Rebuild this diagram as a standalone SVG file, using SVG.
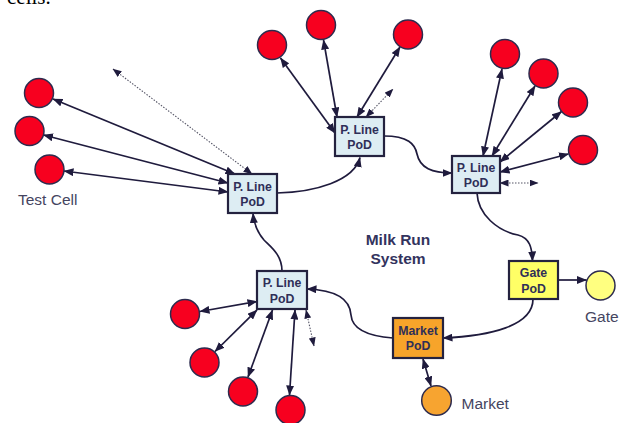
<svg xmlns="http://www.w3.org/2000/svg" width="624" height="423" viewBox="0 0 624 423">
<defs>
<marker id="ah" markerUnits="userSpaceOnUse" markerWidth="10" markerHeight="8" refX="9.5" refY="4" orient="auto-start-reverse"><path d="M0,0 L10,4 L0,8 z" fill="#1f1b3d"/></marker>
<marker id="ahs" markerUnits="userSpaceOnUse" markerWidth="9" markerHeight="7" refX="8.5" refY="3.5" orient="auto-start-reverse"><path d="M0,0 L9,3.5 L0,7 z" fill="#1f1b3d"/></marker>
</defs>
<style>
.c{stroke:#1f1b3d;stroke-width:1.7;fill:none}
.d{stroke:#555566;stroke-width:1.1;stroke-dasharray:1.5,1.5;fill:none}
.red{fill:#f7001f;stroke:#2d2b4e;stroke-width:1.5}
.box{stroke:#24223f;stroke-width:2.2}
.pl{fill:#ddedf3}
.bt{font-family:"Liberation Sans",Arial,sans-serif;font-weight:bold;font-size:12.3px;fill:#2f2f58;text-anchor:middle}
.lb{font-family:"Liberation Sans",Arial,sans-serif;font-size:15.5px;fill:#45455f}
.mr{font-family:"Liberation Sans",Arial,sans-serif;font-weight:bold;font-size:15.5px;fill:#33335e;text-anchor:middle}
</style>
<rect width="624" height="423" fill="#ffffff"/>
<text x="7" y="4" font-family="Liberation Serif,serif" font-size="21" fill="#000">cells.</text>

<g id="connectors">
<!-- box1 spokes -->
<path class="c" d="M53,99 L235,174" marker-start="url(#ah)" marker-end="url(#ah)"/>
<path class="c" d="M43.5,135 L228,183" marker-start="url(#ah)" marker-end="url(#ah)"/>
<path class="c" d="M64,171 L228,192" marker-start="url(#ah)" marker-end="url(#ah)"/>
<path class="d" d="M113,69 L252,174" marker-start="url(#ahs)" marker-end="url(#ahs)"/>
<!-- box2 spokes -->
<path class="c" d="M280.5,58 L335,133" marker-start="url(#ah)" marker-end="url(#ah)"/>
<path class="c" d="M323.5,40 L337,117" marker-start="url(#ah)" marker-end="url(#ah)"/>
<path class="c" d="M400,47 L357,117" marker-start="url(#ah)" marker-end="url(#ah)"/>
<path class="d" d="M366,117 L393,89" marker-start="url(#ahs)" marker-end="url(#ahs)"/>
<!-- box3 spokes -->
<path class="c" d="M502,69 L483,156" marker-start="url(#ah)" marker-end="url(#ah)"/>
<path class="c" d="M535,86 L492,156" marker-start="url(#ah)" marker-end="url(#ah)"/>
<path class="c" d="M561.5,111.5 L500,162" marker-start="url(#ah)" marker-end="url(#ah)"/>
<path class="c" d="M568.5,154 L500,172" marker-start="url(#ah)" marker-end="url(#ah)"/>
<path class="d" d="M500,183 L538,183" marker-start="url(#ahs)" marker-end="url(#ahs)"/>
<!-- box4 spokes -->
<path class="c" d="M200,311.5 L257,301.5" marker-start="url(#ah)" marker-end="url(#ah)"/>
<path class="c" d="M215,351.5 L257,310" marker-start="url(#ah)" marker-end="url(#ah)"/>
<path class="c" d="M248,377 L272.5,310" marker-start="url(#ah)" marker-end="url(#ah)"/>
<path class="c" d="M289.5,395 L295,310" marker-start="url(#ah)" marker-end="url(#ah)"/>
<path class="d" d="M306,310 L314,346" marker-start="url(#ahs)" marker-end="url(#ahs)"/>
<!-- market -->
<path class="c" d="M423,359 L431,386" marker-start="url(#ah)" marker-end="url(#ah)"/>
<!-- gate -->
<path class="c" d="M558,280 L586.5,280" marker-end="url(#ah)"/>
<!-- milk run loop -->
<path class="c" d="M277,193 C315,192 354,181 360,157.5" marker-end="url(#ah)"/>
<path class="c" d="M384,136 C408,136 415,144 417,154 C420,168 432,173 452,173" marker-end="url(#ah)"/>
<path class="c" d="M477,193 C478,215 498,231 518,235 C530,238 532,248 532.5,261" marker-end="url(#ah)"/>
<path class="c" d="M533,299 C533,326 490,336 443,338" marker-end="url(#ah)"/>
<path class="c" d="M393,338 C366,336 352,328 351,315 C350,298 335,290 307,289" marker-end="url(#ah)"/>
<path class="c" d="M282,271 C282,255 271,247 264,240 C258,233 254,225 253,213.5" marker-end="url(#ah)"/>
</g>

<g id="cell-a"><circle class="red" cx="39" cy="93" r="14.5"/></g>
<g id="cell-b"><circle class="red" cx="29.5" cy="131" r="14.5"/></g>
<g id="cell-c"><circle class="red" cx="49.5" cy="169.5" r="14.5"/></g>
<g id="cell-d"><circle class="red" cx="272" cy="45" r="14.5"/></g>
<g id="cell-e"><circle class="red" cx="321" cy="25" r="14.5"/></g>
<g id="cell-f"><circle class="red" cx="408" cy="34.5" r="14.5"/></g>
<g id="cell-g"><circle class="red" cx="505" cy="54" r="14.5"/></g>
<g id="cell-h"><circle class="red" cx="543.5" cy="73.5" r="14.5"/></g>
<g id="cell-i"><circle class="red" cx="573" cy="102.5" r="14.5"/></g>
<g id="cell-j"><circle class="red" cx="583" cy="150" r="14.5"/></g>
<g id="cell-k"><circle class="red" cx="185" cy="314" r="14.5"/></g>
<g id="cell-l"><circle class="red" cx="204.5" cy="362.5" r="14.5"/></g>
<g id="cell-m"><circle class="red" cx="243" cy="391.5" r="14.5"/></g>
<g id="cell-n"><circle class="red" cx="290.5" cy="410" r="14.5"/></g>

<g id="pline1"><rect class="box pl" x="228" y="174" width="49" height="39"/><text class="bt" x="252.5" y="190.5">P. Line</text><text class="bt" x="252.5" y="205.5">PoD</text></g>
<g id="pline2"><rect class="box pl" x="335" y="117" width="49" height="39"/><text class="bt" x="359.5" y="133.5">P. Line</text><text class="bt" x="359.5" y="148.5">PoD</text></g>
<g id="pline3"><rect class="box pl" x="452" y="156" width="48" height="37"/><text class="bt" x="476" y="172">P. Line</text><text class="bt" x="476" y="187">PoD</text></g>
<g id="pline4"><rect class="box pl" x="257" y="271" width="50" height="38"/><text class="bt" x="282" y="287">P. Line</text><text class="bt" x="282" y="302.5">PoD</text></g>
<g id="gate-pod"><rect class="box" fill="#ffff66" x="509" y="261" width="49" height="38"/><text class="bt" x="533.5" y="277">Gate</text><text class="bt" x="533.5" y="292.5">PoD</text></g>
<g id="market-pod"><rect class="box" fill="#f7a42a" x="393" y="318" width="50" height="40"/><text class="bt" x="418" y="334.5">Market</text><text class="bt" x="418" y="350">PoD</text></g>
<g id="gate"><circle cx="600.5" cy="285.5" r="14.5" fill="#ffff80" stroke="#2d2b4e" stroke-width="1.5"/><text class="lb" x="585" y="321.5">Gate</text></g>
<g id="market"><circle cx="436.5" cy="400.5" r="14.8" fill="#f7a430" stroke="#2d2b4e" stroke-width="1.5"/><text class="lb" x="461.5" y="409">Market</text></g>
<g id="test-cell-label"><text class="lb" x="18" y="205">Test Cell</text></g>
<g id="milk-run"><text class="mr" x="398" y="245">Milk Run</text><text class="mr" x="398" y="263.5">System</text></g>
</svg>
